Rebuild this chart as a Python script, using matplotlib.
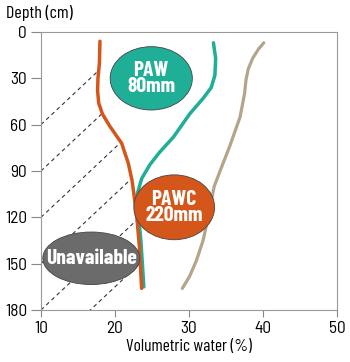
import matplotlib
matplotlib.use("Agg")
import matplotlib.pyplot as plt
from matplotlib.patches import Ellipse, Polygon

plt.rcParams["font.family"] = ["Barlow Semi Condensed", "DejaVu Sans"]

# profiles: (volumetric water %, depth cm)
wilting_x = [17.97, 17.9, 17.7, 17.65, 17.8, 18.3, 19.3, 20.9, 21.8, 22.3, 22.9, 23.3, 23.6]
wilting_d = [6, 20, 30, 38, 46, 53, 61, 72, 85, 96, 117, 139, 166]

field_x = [33.3, 33.6, 33.5, 33.0, 31.9, 30.1, 27.9, 26.0, 24.7, 23.6, 23.0, 23.2, 23.5, 23.9]
field_d = [7, 17, 28, 36, 43, 53, 68, 78, 86, 95, 105, 120, 135, 165]

sat_x = [40.1, 39.4, 38.6, 38.0, 37.7, 37.5, 36.9, 35.5, 34.6, 33.4, 32.5, 31.9, 31.0, 30.1, 29.1]
sat_d = [7, 11, 17, 24, 31, 40, 55, 74, 85, 100, 122, 135, 148, 158, 166]

hatch_start = [60, 90, 120, 150, 180, 210]   # depth where dashed lines leave the y axis
hatch_slope = 4.5                            # cm per % water

x_ticks = [10, 20, 30, 40, 50]
y_ticks = [0, 30, 60, 90, 120, 150, 180]

orange = "#D5561B"
teal = "#1FAE96"
tan = "#B3A48A"
grey = "#6B6B6B"

fig = plt.figure(figsize=(3.5, 3.62), dpi=100)
ax = fig.add_axes([0.117, 0.1436, 0.846, 0.768])

# hatched unavailable region between y axis and wilting curve
region = Polygon(list(zip([10] + wilting_x + [wilting_x[-1], 10],
                          [wilting_d[0]] + wilting_d + [180, 180])),
                 closed=True, transform=ax.transData, facecolor="none", edgecolor="none")
ax.add_patch(region)
for d0 in hatch_start:
    ln, = ax.plot([10, 10 + d0 / hatch_slope], [d0, 0], color="#333333", lw=0.8,
                  dashes=(3.5, 3), zorder=1)
    ln.set_clip_path(region)

ax.plot(sat_x, sat_d, color=tan, lw=2.3, solid_capstyle="round", solid_joinstyle="round", zorder=2)
ax.plot(field_x, field_d, color=teal, lw=2.5, solid_capstyle="round", solid_joinstyle="round", zorder=2)
ax.plot(wilting_x, wilting_d, color=orange, lw=2.5, solid_capstyle="round", solid_joinstyle="round", zorder=3)

# labelled ellipses
for (cx, cy, w, h, col, txt) in [(24.9, 30, 11.1, 41, teal, "PAW\n80mm"),
                                 (28.0, 113.5, 10.9, 42, orange, "PAWC\n220mm"),
                                 (16.8, 146.5, 13.1, 34, grey, "Unavailable")]:
    ax.add_patch(Ellipse((cx, cy), w, h, facecolor=col, edgecolor="#444444", lw=0.6, zorder=4))
    ax.text(cx, cy, txt, ha="center", va="center", color="white", fontsize=15.5,
            family=["Barlow Condensed", "DejaVu Sans"], fontweight="bold",
            linespacing=0.82, zorder=5)

ax.set_xlim(10, 50)
ax.set_ylim(180, 0)
ax.set_xticks(x_ticks)
ax.set_yticks(y_ticks)
ax.tick_params(axis="both", labelsize=12.5, color="#888888", width=0.8, pad=3)
ax.tick_params(axis="y", length=7)
ax.tick_params(axis="x", length=5)
for s in ax.spines.values():
    s.set_color("#999999")
    s.set_linewidth(0.8)

ax.set_xlabel("Volumetric water (%)", fontsize=12.5, labelpad=2,
              family=["Barlow Condensed", "DejaVu Sans"])
fig.text(0.017, 0.965, "Depth (cm)", fontsize=13, ha="left", va="center",
         family=["Barlow Condensed", "DejaVu Sans"])

fig.savefig("out.png", dpi=100)
